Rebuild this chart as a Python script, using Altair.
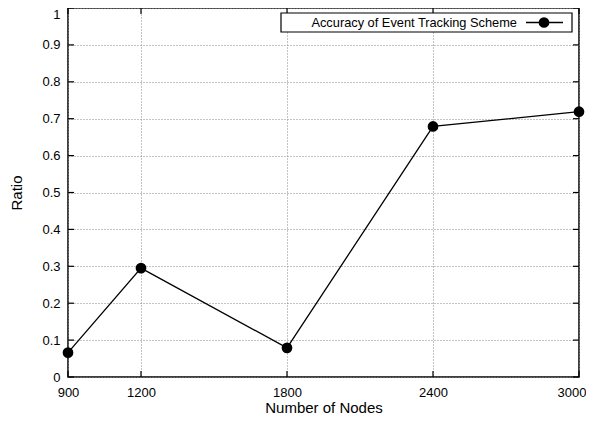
import altair as alt
import pandas as pd

nodes = [900, 1200, 1800, 2400, 3000]
ratio = [0.066, 0.295, 0.079, 0.679, 0.719]
x_ticks = [900, 1200, 1800, 2400, 3000]
y_ticks = [0, 0.1, 0.2, 0.3, 0.4, 0.5, 0.6, 0.7, 0.8, 0.9, 1]
legend_label = ["Accuracy of Event Tracking Scheme"]

W, H = 511, 369
FONT = "Liberation Sans"

df = pd.DataFrame({"nodes": nodes, "ratio": ratio})
xt = pd.DataFrame({"nodes": x_ticks})
yt = pd.DataFrame({"ratio": y_ticks})
leg = pd.DataFrame({"label": legend_label})

xscale = alt.Scale(domain=[900, 3000], nice=False, zero=False)
yscale = alt.Scale(domain=[0, 1], nice=False)

xaxis = alt.Axis(
    values=x_ticks, title="Number of Nodes", format="d",
    grid=True, ticks=False, domain=False, labelPadding=9,
    labelAlign=alt.ConditionalAxisString(
        condition={"test": "datum.value >= 3000", "value": "right"}, value="center"),
    labelOffset=alt.ConditionalAxisNumber(
        condition={"test": "datum.value >= 3000", "value": 7}, value=0),
    titleY=30, titleBaseline="middle")
yaxis = alt.Axis(
    values=y_ticks, title="Ratio", format="~g",
    grid=True, ticks=False, domain=False, labelPadding=8,
    labelBaseline=alt.ConditionalAxisLabelBaseline(
        condition={"test": "datum.value >= 1", "value": "top"}, value="middle"),
    titleAngle=-90, titleX=-52, titleY=H / 2,
    titleAlign="center", titleBaseline="middle")

base = alt.Chart(df)
line = base.mark_line(color="black", strokeWidth=1.3).encode(
    x=alt.X("nodes:Q", scale=xscale, axis=xaxis),
    y=alt.Y("ratio:Q", scale=yscale, axis=yaxis),
)
pts = base.mark_point(filled=True, color="black", size=115, opacity=1).encode(
    x=alt.X("nodes:Q", scale=xscale, axis=xaxis),
    y=alt.Y("ratio:Q", scale=yscale, axis=yaxis),
)

tick_style = dict(color="black", strokeWidth=1.2)
bt = alt.Chart(xt).mark_rule(**tick_style).encode(
    x=alt.X("nodes:Q", scale=xscale, axis=xaxis), y=alt.value(H), y2=alt.value(H - 6))
tt = alt.Chart(xt).mark_rule(**tick_style).encode(
    x=alt.X("nodes:Q", scale=xscale, axis=xaxis), y=alt.value(0), y2=alt.value(6))
lt = alt.Chart(yt).mark_rule(**tick_style).encode(
    y=alt.Y("ratio:Q", scale=yscale, axis=yaxis), x=alt.value(0), x2=alt.value(6))
rt = alt.Chart(yt).mark_rule(**tick_style).encode(
    y=alt.Y("ratio:Q", scale=yscale, axis=yaxis), x=alt.value(W), x2=alt.value(W - 6))

box = alt.Chart(leg).mark_rect(fill="white", stroke="black", strokeWidth=1.2).encode(
    x=alt.value(213), x2=alt.value(504), y=alt.value(5), y2=alt.value(24))
ltext = alt.Chart(leg).mark_text(align="right", baseline="middle", font=FONT,
                                 fontSize=12.8, color="black").encode(
    text="label:N", x=alt.value(449), y=alt.value(14.5))
lline = alt.Chart(leg).mark_rule(color="black", strokeWidth=1.3).encode(
    x=alt.value(458), x2=alt.value(495), y=alt.value(14.5))
ldot = alt.Chart(leg).mark_point(filled=True, color="black", size=115, opacity=1).encode(
    x=alt.value(476), y=alt.value(14.5))

chart = alt.layer(line, pts, bt, tt, lt, rt, box, ltext, lline, ldot).properties(
    width=W, height=H,
    autosize=alt.AutoSizeParams(type="none"),
    padding={"left": 60, "top": 0, "right": 7, "bottom": 38},
    background="white",
).configure_view(
    stroke="black", strokeWidth=1.5
).configure_axis(
    labelFont=FONT, titleFont=FONT, labelFontSize=13, titleFontSize=15,
    labelColor="black", titleColor="black", titleFontWeight="normal",
    gridColor="#888888", gridDash=[1, 2], gridWidth=1, gridOpacity=1,
)

chart.save("out.html", embed_options={"renderer": "svg", "actions": False})
